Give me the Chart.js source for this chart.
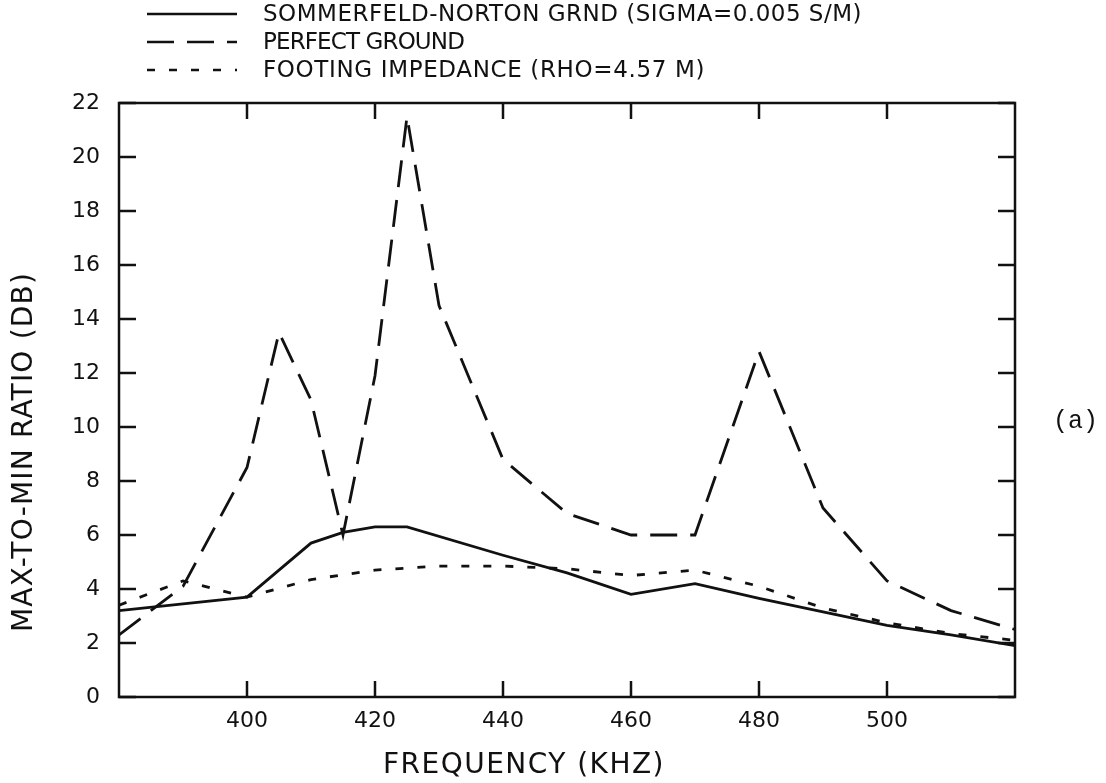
<!DOCTYPE html>
<html>
<head>
<meta charset="utf-8">
<script src="https://cdn.jsdelivr.net/npm/chart.js@4.4.0/dist/chart.umd.min.js"></script>
<style>
    html, body { margin: 0; background: #fff; }
</style>
</head>
<body>
<canvas id="RatioChart" width="1106" height="783"></canvas>
<script>
// frequencies (kHz) and max-to-min ratio (dB)
const sommerfeld_freq = [380, 390, 400, 410, 415, 420, 425, 440, 450, 460, 470, 480, 490, 500, 510, 520];
const sommerfeld_db   = [3.2, 3.45, 3.7, 5.7, 6.1, 6.3, 6.3, 5.25, 4.6, 3.8, 4.2, 3.65, 3.15, 2.65, 2.3, 1.9];

const perfect_freq = [380, 390, 400, 405, 410, 415, 420, 425, 430, 440, 450, 460, 470, 480, 490, 500, 510, 520];
const perfect_db   = [2.3, 4.1, 8.5, 13.5, 11.0, 6.0, 11.9, 21.5, 14.5, 8.8, 6.8, 6.0, 6.0, 12.8, 7.0, 4.3, 3.2, 2.5];

const footing_freq = [380, 390, 400, 410, 420, 430, 440, 450, 460, 470, 480, 490, 500, 510, 520];
const footing_db   = [3.4, 4.3, 3.7, 4.35, 4.7, 4.85, 4.85, 4.75, 4.5, 4.7, 4.1, 3.3, 2.75, 2.35, 2.1];

const legend_labels = [
    'SOMMERFELD-NORTON GRND (SIGMA=0.005 S/M)',
    'PERFECT GROUND',
    'FOOTING IMPEDANCE (RHO=4.57 M)'
];

const x_ticks_shown = [400, 420, 440, 460, 480, 500];

const ink = '#111';

function toPoints(xs, ys) {
    return xs.map((f, i) => ({ x: f, y: ys[i] }));
}

// draw text squeezed/stretched to a given width
function fitText(ctx, text, x, y, width) {
    ctx.letterSpacing = '0px';
    const w = ctx.measureText(text).width;
    ctx.letterSpacing = ((width - w) / text.length) + 'px';
    ctx.fillText(text, x, y);
    ctx.letterSpacing = '0px';
}

const framePlugin = {
    id: 'frame',
    afterDraw(chart) {
        const ctx = chart.ctx;
        const a = chart.chartArea;
        const x = chart.scales.x;
        const y = chart.scales.y;
        ctx.save();
        ctx.strokeStyle = ink;
        ctx.fillStyle = ink;
        ctx.lineWidth = 2.5;
        ctx.setLineDash([]);
        ctx.strokeRect(a.left, a.top, a.right - a.left, a.bottom - a.top);

        // inward tick marks on all four sides
        ctx.beginPath();
        y.ticks.forEach(t => {
            const py = y.getPixelForValue(t.value);
            ctx.moveTo(a.left, py); ctx.lineTo(a.left + 17, py);
            ctx.moveTo(a.right, py); ctx.lineTo(a.right - 17, py);
        });
        x_ticks_shown.forEach(v => {
            const px = x.getPixelForValue(v);
            ctx.moveTo(px, a.bottom); ctx.lineTo(px, a.bottom - 16);
            ctx.moveTo(px, a.top); ctx.lineTo(px, a.top + 16);
        });
        ctx.stroke();

        // legend
        const rows = [14, 42, 70];
        const widths = [599, 201, 442];
        chart.data.datasets.forEach((ds, i) => {
            ctx.beginPath();
            ctx.lineWidth = 2.5;
            ctx.setLineDash(ds.borderDash || []);
            ctx.moveTo(147, rows[i]);
            ctx.lineTo(237, rows[i]);
            ctx.stroke();
        });
        ctx.setLineDash([]);
        ctx.font = '23px "DejaVu Sans"';
        ctx.textAlign = 'left';
        ctx.textBaseline = 'middle';
        legend_labels.forEach((txt, i) => fitText(ctx, txt, 263, rows[i] + 1, widths[i]));

        // axis titles
        ctx.font = '28px "DejaVu Sans"';
        ctx.textAlign = 'left';
        fitText(ctx, 'FREQUENCY (KHZ)', 383, 766, 282);

        ctx.save();
        ctx.translate(25, 632);
        ctx.rotate(-Math.PI / 2);
        fitText(ctx, 'MAX-TO-MIN RATIO (DB)', 0, 0, 360);
        ctx.restore();

        ctx.font = '25px "Liberation Mono"';
        ctx.fillText('(a)', 1053, 421);
        ctx.restore();
    }
};

const ratio_data = {
    datasets: [{
        label: legend_labels[0],
        data: toPoints(sommerfeld_freq, sommerfeld_db),
        borderColor: ink,
        borderWidth: 2.8,
        borderDash: []
    }, {
        label: legend_labels[1],
        data: toPoints(perfect_freq, perfect_db),
        borderColor: ink,
        borderWidth: 2.8,
        borderDash: [27, 13]
    }, {
        label: legend_labels[2],
        data: toPoints(footing_freq, footing_db),
        borderColor: ink,
        borderWidth: 2.8,
        borderDash: [8, 14]
    }]
};

const configRatio = {
    type: 'line',
    data: ratio_data,
    options: {
        responsive: false,
        animation: false,
        elements: {
            point: { radius: 0 },
            line: { tension: 0, fill: false }
        },
        layout: {
            padding: { top: 103, right: 91, left: 0, bottom: 0 }
        },
        plugins: {
            legend: { display: false },
            tooltip: { enabled: false }
        },
        scales: {
            x: {
                type: 'linear',
                min: 380,
                max: 520,
                grid: { display: false, drawTicks: false },
                border: { display: false },
                afterFit: s => { s.height = 86; },
                ticks: {
                    stepSize: 20,
                    padding: 11,
                    color: ink,
                    font: { family: 'DejaVu Sans', size: 22 },
                    maxRotation: 0,
                    callback: v => (v === 380 || v === 520) ? '' : v
                }
            },
            y: {
                min: 0,
                max: 22,
                grid: { display: false, drawTicks: false },
                border: { display: false },
                afterFit: s => { s.width = 119; },
                ticks: {
                    stepSize: 2,
                    padding: 19,
                    color: ink,
                    font: { family: 'DejaVu Sans', size: 22 }
                }
            }
        }
    },
    plugins: [framePlugin]
};

const RatioChart = new Chart(
    document.getElementById('RatioChart'),
    configRatio
);
</script>
</body>
</html>
